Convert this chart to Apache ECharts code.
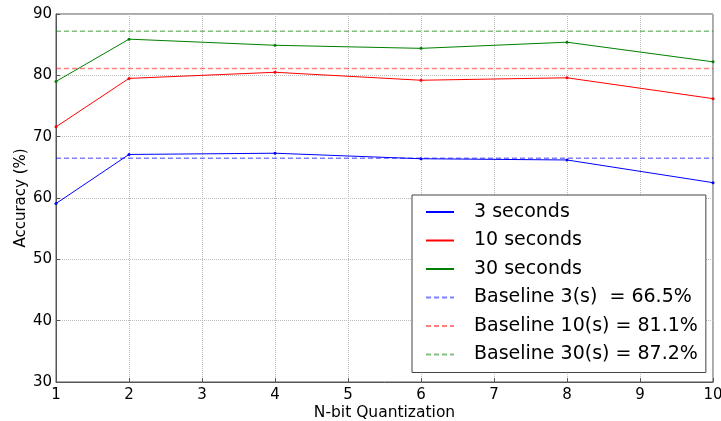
<!DOCTYPE html>
<html><head><meta charset="utf-8">
<script src="https://cdn.jsdelivr.net/npm/echarts@6/dist/echarts.min.js"></script>
<style>html,body{margin:0;padding:0;background:#fff}#c{width:721px;height:421px}</style>
</head><body><div id="c"></div>
<script>
var bits = [1, 2, 4, 6, 8, 10];
var acc3s = [59.1, 67.1, 67.3, 66.4, 66.2, 62.5];
var acc10s = [71.6, 79.5, 80.5, 79.2, 79.6, 76.2];
var acc30s = [79.0, 85.9, 84.9, 84.4, 85.4, 82.2];
var baselines = [66.5, 81.1, 87.2];
var seriesNames = ['3 seconds', '10 seconds', '30 seconds'];
var baselineNames = ['Baseline 3(s)  = 66.5%', 'Baseline 10(s) = 81.1%', 'Baseline 30(s) = 87.2%'];
var xRange = [1, 10];

var colors = ['#0000ff', '#ff0000', '#008000'];
var baseColors = ['rgba(0,0,255,0.5)', 'rgba(255,0,0,0.5)', 'rgba(0,128,0,0.5)'];
var font = 'DejaVu Sans';

function pairs(ys){ return bits.map(function(b,i){ return [b, ys[i]]; }); }
var all = [acc3s, acc10s, acc30s];
var series = [];
all.forEach(function(ys, k){
  series.push({
    name: seriesNames[k], type: 'line', data: pairs(ys),
    symbol: 'circle', symbolSize: 3, showSymbol: true,
    lineStyle: {color: colors[k], width: 1},
    itemStyle: {color: colors[k]},
    animation: false, z: 3
  });
});
baselines.forEach(function(v, k){
  series.push({
    name: baselineNames[k], type: 'line',
    data: [[xRange[0], v], [xRange[1], v]],
    symbol: 'none',
    lineStyle: {color: baseColors[k], width: 1.5, type: [5, 3]},
    itemStyle: {color: baseColors[k]},
    animation: false, z: 2
  });
});

var chart = echarts.init(document.getElementById('c'), null, {renderer: 'canvas'});
chart.setOption({
  animation: false,
  backgroundColor: '#fff',
  grid: {left: 56, right: 8, top: 14, bottom: 39, containLabel: false, outerBoundsMode: 'none',
         show: true, borderColor: '#555', borderWidth: 1, backgroundColor: 'transparent'},
  xAxis: {
    type: 'value', min: 1, max: 10, interval: 1,
    name: 'N-bit Quantization', nameLocation: 'middle', nameGap: 22.5, nameMoveOverlap: false,
    nameTextStyle: {fontFamily: font, fontSize: 15.5, color: '#000'},
    axisLine: {show: true, lineStyle: {color: '#555'}},
    axisTick: {show: true, inside: true, length: 4, lineStyle: {color: '#555'}},
    axisLabel: {fontFamily: font, fontSize: 15, color: '#000', margin: 6},
    splitLine: {show: true, lineStyle: {color: '#bbb', type: 'dotted'}}
  },
  yAxis: {
    type: 'value', min: 30, max: 90, interval: 10,
    name: 'Accuracy (%)', nameLocation: 'middle', nameGap: 27, nameMoveOverlap: false,
    nameTextStyle: {fontFamily: font, fontSize: 15, color: '#000'},
    axisLine: {show: true, lineStyle: {color: '#555'}},
    axisTick: {show: true, inside: true, length: 4, lineStyle: {color: '#555'}},
    axisLabel: {fontFamily: font, fontSize: 15, color: '#000', margin: 4},
    splitLine: {show: true, lineStyle: {color: '#bbb', type: 'dotted'}}
  },
  legend: {
    orient: 'vertical', left: 412, top: 195,
    backgroundColor: '#fff', borderColor: '#444', borderWidth: 1,
    padding: [7, 8, 8, 13],
    itemWidth: 28, itemHeight: 12, itemGap: 8.5,
    itemStyle: {opacity: 0},
    textStyle: {fontFamily: font, fontSize: 19, color: '#000', lineHeight: 20, padding: [0,0,0,15]},
    data: seriesNames.concat(baselineNames)
  },
  series: series
});
</script></body></html>
